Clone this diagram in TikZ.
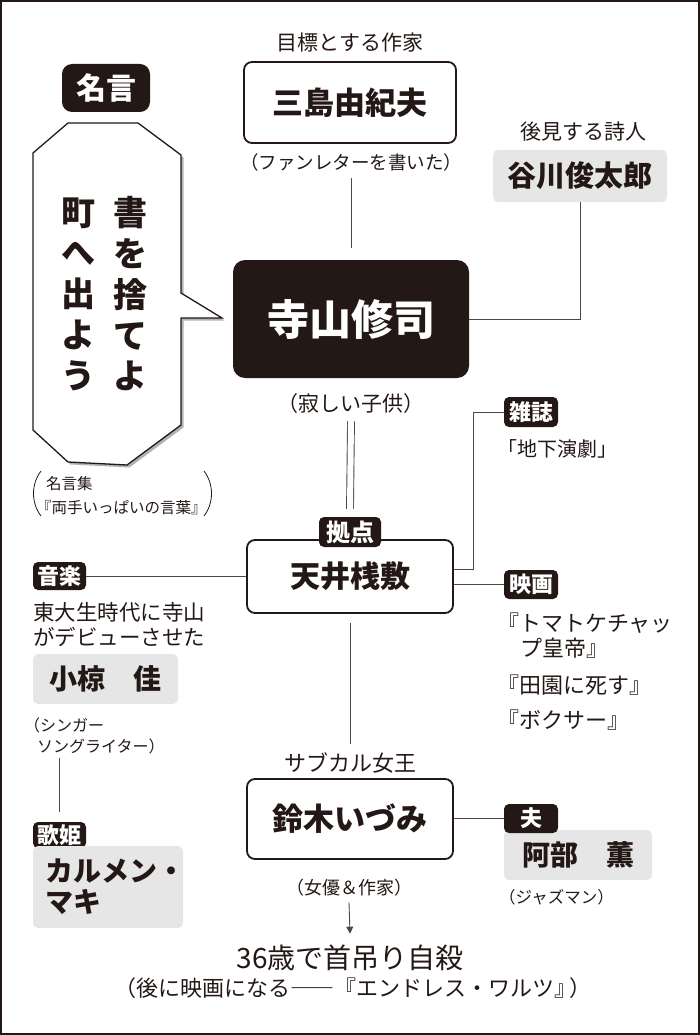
\documentclass[tikz,border=0pt]{standalone}
\usepackage{fontspec}
\setmainfont{Noto Sans CJK JP}
\usetikzlibrary{arrows.meta,calc}
\definecolor{ink}{HTML}{231815}
\definecolor{pale}{HTML}{E6E6E6}
\newcommand\fs[1]{\fontsize{#1}{#1}\selectfont}
\newcommand\fsl[2]{\fontsize{#1}{#2}\selectfont}
\begin{document}
\begin{tikzpicture}[x=1pt,y=-1pt,
  conn/.style={draw=ink!80,line width=0.9pt},
  wbox/.style={draw=ink,line width=1.8pt,rounded corners=8pt,fill=white,inner sep=0pt,text=ink,font=\bfseries\fs{31}},
  gbox/.style={fill=pale,rounded corners=5pt,inner sep=0pt,text=ink,font=\bfseries\fs{28}},
  tagbox/.style={fill=ink,rounded corners=5pt,inner sep=0pt,text=white,font=\bfseries\fs{22},minimum width=53pt,minimum height=28pt},
  lbl/.style={inner sep=0pt,text=ink},
]
\useasboundingbox (0,0) rectangle (700,1035);
\draw[ink,line width=2pt] (1,1) rectangle (699,1034);

% ---- top: Mishima
\node[lbl,anchor=base,font=\fs{21}] (goal) at (350,51) {目標とする作家};
\node[wbox,minimum width=212pt,minimum height=81pt] (mishima) at (350,102.5) {三島由紀夫};
\node[lbl,anchor=base,font=\fs{18.5}] (mcap) at (351,170) {（ファンレターを書いた）};

% ---- Terayama
\node[fill=ink,rounded corners=12pt,inner sep=0pt,minimum width=236pt,minimum height=118pt,text=white,font=\bfseries\fs{42}] (tera) at (351,319) {寺山修司};
\node[lbl,anchor=base,font=\fs{21}] (tcap) at (351,411) {（寂しい子供）};
\draw[conn] ([yshift=-6.5pt]mcap.south) -- ([yshift=12pt]tera.north);

% ---- Tanikawa
\node[lbl,anchor=base,font=\fs{21}] (kouken) at (583,140) {後見する詩人};
\node[gbox,minimum width=174pt,minimum height=52pt,font=\bfseries\fs{29}] (tani) at (580,176) {谷川俊太郎};
\draw[conn] (tani.south) |- (tera.east);

% ---- speech bubble
\fill[black!30,shift={(2.5,2.5)}] (68,123) -- (138,123) -- (181,155) -- (181,293) -- (222,318) -- (181,318) -- (181,425) -- (127,465) -- (68,462) -- (33,430) -- (33,153) -- cycle;
\filldraw[fill=white,draw=ink,line width=1.3pt] (68,123) -- (138,123) -- (181,155) -- (181,293) -- (222,318) -- (181,318) -- (181,425) -- (127,465) -- (68,462) -- (33,430) -- (33,153) -- cycle;
\node[lbl,align=center,font=\bfseries\fsl{34}{40.75}] (q1) at (130,294) {書\\を\\捨\\て\\よ};
\node[lbl,align=center,font=\bfseries\fsl{34}{40.75}] (q2) at (78,294) {町\\へ\\出\\よ\\う};
\node[tagbox,minimum width=88pt,minimum height=48pt,rounded corners=10pt,font=\bfseries\fs{30}] (meigen) at (106,88) {名言};

% ---- source
\node[lbl,anchor=base west,font=\fs{15.5}] (src1) at (46,489) {名言集};
\node[lbl,anchor=base west,font=\fs{15.5}] (src2) at (36,513) {『両手いっぱいの言葉』};
\draw[ink,line width=0.8pt] (41,471) .. controls (31,484) and (31,503) .. (41,516);
\draw[ink,line width=0.8pt] (204,471) .. controls (214,484) and (214,503) .. (204,516);

% ---- Tenjo Sajiki
\node[wbox,minimum width=206pt,minimum height=73pt,font=\bfseries\fs{30}] (tenjo) at (350,576.5) {天井桟敷};
\node[tagbox,minimum width=62pt,minimum height=30pt,font=\bfseries\fs{24}] (kyoten) at (350,532) {拠点};
\draw[conn,double=white,double distance=6pt] ([yshift=-8pt]tcap.south) -- ([yshift=8pt]kyoten.north);

% ---- magazine
\node[tagbox,minimum width=54pt,minimum height=30pt] (zasshi) at (531,412) {雑誌};
\node[lbl,anchor=base west,font=\fs{20}] (chika) at (497,456) {「地下演劇」};
\draw[conn] (zasshi.west) -- ++(-30,0) |- ([yshift=7.5pt]tenjo.east);

% ---- films
\node[tagbox,minimum width=54pt,minimum height=29pt] (eiga) at (531,584.5) {映画};
\draw[conn] (eiga.west) -- (eiga.west -| tenjo.east);
\node[lbl,anchor=base west,font=\fs{22}] (film1) at (497,631.5) {『トマトケチャッ};
\node[lbl,anchor=base west,font=\fs{22}] (film2) at (520,656.5) {プ皇帝』};
\node[lbl,anchor=base west,font=\fs{22}] (film3) at (497,693.5) {『田園に死す』};
\node[lbl,anchor=base west,font=\fs{22}] (film4) at (497,728.5) {『ボクサー』};

% ---- music
\node[tagbox] (ongaku) at (59.5,576) {音楽};
\draw[conn] (ongaku.east) -- (ongaku.east -| tenjo.west);
\node[lbl,anchor=base west,font=\fs{21.5}] (todai1) at (33,620) {東大生時代に寺山};
\node[lbl,anchor=base west,font=\fs{21.5}] (todai2) at (33,645) {がデビューさせた};
\node[gbox,minimum width=145pt,minimum height=50pt] (ogura) at (105.5,679) {小椋　佳};
\node[lbl,anchor=base west,font=\fs{16}] (ocap1) at (24,731) {（シンガー};
\node[lbl,anchor=base west,font=\fs{16}] (ocap2) at (37,752) {ソングライター）};
\node[tagbox,minimum height=26pt] (kahime) at (59.5,835) {歌姫};
\draw[conn] ([yshift=-4pt]ocap2.south -| kahime.north) -- ([yshift=10pt]kahime.north);
\node[gbox,minimum width=150pt,minimum height=82pt,align=left,text width=126pt,font=\bfseries\fsl{28}{31}] (carmen) at (108,887) {カルメン・\\マキ};

% ---- Suzuki
\node[lbl,anchor=base,font=\fs{22}] (subcal) at (350,771) {サブカル女王};
\draw[conn] ([yshift=-9pt]tenjo.south) -- ([yshift=8pt]subcal.north);
\node[wbox,minimum width=206pt,minimum height=80pt] (suzuki) at (350,819) {鈴木いづみ};
\node[gbox,minimum width=148pt,minimum height=50pt] (abe) at (578,855) {阿部　薫};
\node[tagbox,minimum width=54pt,minimum height=29pt] (otto) at (531,818.5) {夫};
\draw[conn] (otto.west) -- (otto.west -| suzuki.east);
\node[lbl,anchor=base west,font=\fs{16.5}] (jazz) at (499,903) {（ジャズマン）};
\node[lbl,anchor=base,font=\fs{18}] (jcap) at (349,894.5) {（女優＆作家）};
\node[lbl,anchor=base,font=\fs{28}] (death) at (350,968.5) {36歳で首吊り自殺};
\draw[conn,-{Triangle[length=7pt,width=7pt]}] ([yshift=-6pt]jcap.south) -- ([yshift=11pt]death.north);
\node[lbl,anchor=base,font=\fs{22}] (later) at (353,996.5) {（後に映画になる――『エンドレス・ワルツ』\kern-0.3em）};
\end{tikzpicture}
\end{document}
